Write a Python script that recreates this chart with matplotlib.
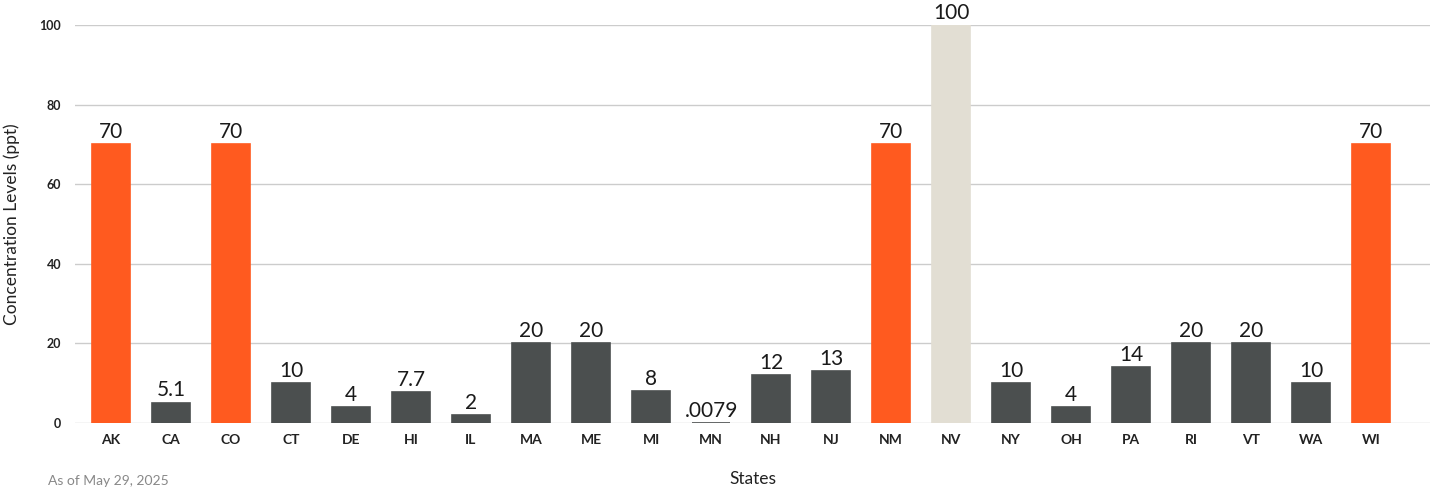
import matplotlib
matplotlib.use('Agg')
import matplotlib.pyplot as plt

states = ['AK', 'CA', 'CO', 'CT', 'DE', 'HI', 'IL', 'MA', 'ME', 'MI', 'MN', 'NH',
          'NJ', 'NM', 'NV', 'NY', 'OH', 'PA', 'RI', 'VT', 'WA', 'WI']
levels = [70, 5.1, 70, 10, 4, 7.7, 2, 20, 20, 8, 0.0079, 12,
          13, 70, 100, 10, 4, 14, 20, 20, 10, 70]
labels = ['70', '5.1', '70', '10', '4', '7.7', '2', '20', '20', '8', '.0079', '12',
          '13', '70', '100', '10', '4', '14', '20', '20', '10', '70']
groups = ['hi', 'lo', 'hi', 'lo', 'lo', 'lo', 'lo', 'lo', 'lo', 'lo', 'lo', 'lo',
          'lo', 'hi', 'top', 'lo', 'lo', 'lo', 'lo', 'lo', 'lo', 'hi']

colors = {'hi': '#FF5A1F', 'lo': '#4B4F4F', 'top': '#E2DED3'}
bar_colors = [colors[g] for g in groups]

plt.rcParams['font.family'] = ['Lato', 'DejaVu Sans']

fig = plt.figure(figsize=(14.3, 4.95), dpi=100)
ax = fig.add_axes([75 / 1430, 1 - 423 / 495, (1430 - 75) / 1430, (423 - 25) / 495])

x = range(len(states))
bars = ax.bar(x, levels, width=0.63, color=bar_colors, edgecolor=bar_colors,
              linewidth=1.2, zorder=3)

for b, lab in zip(bars, labels):
    ax.text(b.get_x() + b.get_width() / 2, b.get_height() + 0.6, lab,
            ha='center', va='bottom', fontsize=15, fontweight='normal', color='#1a1a1a')

ax.set_xlim(-0.6, 21.98)
ax.set_ylim(0, 100)
ax.set_yticks([0, 20, 40, 60, 80, 100])
ax.set_xticks(list(x))
ax.set_xticklabels(states, fontsize=10, fontweight='bold', color='#222222')
ax.tick_params(axis='y', labelsize=9, length=0, pad=10, labelcolor='#222222')
ax.tick_params(axis='x', length=0, pad=8)
for lab in ax.get_yticklabels():
    lab.set_fontweight('bold')

ax.grid(axis='y', color='#CCCCCC', linewidth=1, zorder=0)
for s in ax.spines.values():
    s.set_visible(False)

ax.set_ylabel('Concentration Levels (ppt)', fontsize=12.5, color='#222222', labelpad=14)
ax.set_xlabel('States', fontsize=12.5, color='#222222', labelpad=18)

fig.text(48 / 1430, 1 - 481 / 495, 'As of May 29, 2025', fontsize=10,
         color='#888888', va='center', ha='left')

fig.savefig('out.png', dpi=100)
